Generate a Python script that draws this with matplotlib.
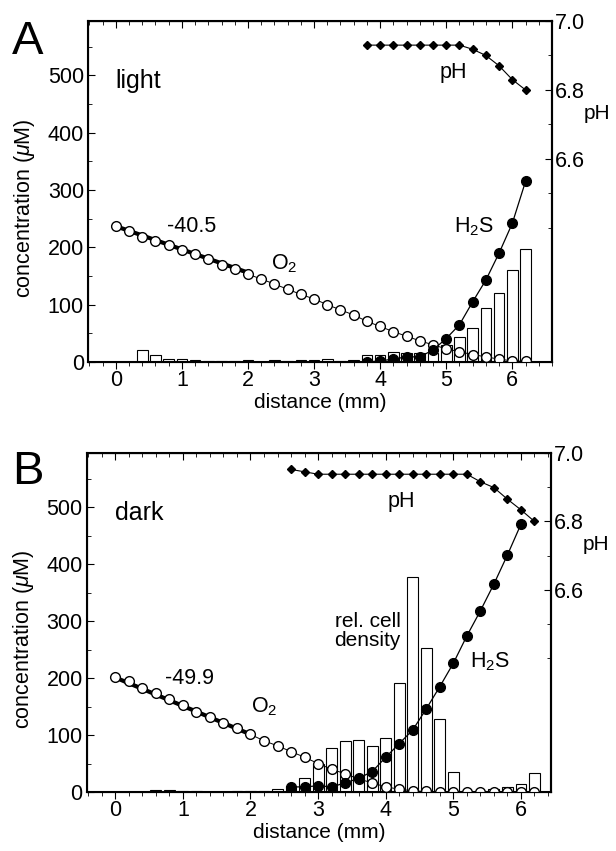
import numpy as np
import matplotlib.pyplot as plt
from matplotlib.ticker import MultipleLocator, FixedLocator

plt.rcParams['font.family'] = ['Liberation Sans', 'DejaVu Sans']
plt.rcParams['mathtext.fontset'] = 'custom'
plt.rcParams['mathtext.rm'] = 'Liberation Sans'
plt.rcParams['mathtext.it'] = 'Liberation Sans:italic'

# depth grid (mm)
dist = np.round(np.arange(0, 6.21, 0.2), 1)

# panel A (light)
o2_light = [237, 229, 219, 211, 204, 196, 188, 179, 170, 162, 153, 145, 136, 127, 118, 110,
            100, 91, 82, 71, 62, 53, 45, 37, 30, 23, 18, 13, 9, 5, 2, 1]
h2s_light_x = np.round(np.arange(3.8, 6.21, 0.2), 1)
h2s_light = [0, 2, 5, 9, 9, 21, 41, 65, 105, 143, 190, 242, 315]
ph_light_x = np.round(np.arange(3.8, 6.21, 0.2), 1)
ph_light = [6.93, 6.93, 6.93, 6.93, 6.93, 6.93, 6.93, 6.93, 6.918, 6.90, 6.87, 6.83, 6.80]
cells_light = [0, 0, 21, 12, 5, 5, 3.5, 1, 2, 2.5, 3, 0.5, 3.5, 1, 3, 3,
               5, 1, 3, 12, 13, 18, 16, 16, 15, 30, 44, 60, 94, 121, 161, 197]
slope_light = -40.5

# panel B (dark)
o2_dark = [201, 194, 183, 173, 163, 153, 141, 131, 122, 112, 101, 90, 81, 71, 61, 50,
           40, 32, 23, 16, 9, 5, 2, 1, 0.5, 0.5, 0.5, 0.5, 0.5, 0.5, 0.5, 0.5]
h2s_dark_x = np.round(np.arange(2.6, 6.01, 0.2), 1)
h2s_dark = [9, 9, 11, 9, 16, 24, 36, 61, 85, 109, 146, 185, 226, 274, 318, 365, 416, 470]
ph_dark_x = np.round(np.arange(2.6, 6.21, 0.2), 1)
ph_dark = [6.952, 6.945] + [6.938] * 12 + [6.916, 6.899, 6.865, 6.834, 6.80]
cells_dark = [0, 0, 0, 3, 4, 2, 1, 0, 0, 1, 2, 1, 5, 10, 25, 50,
              78, 90, 92, 80, 95, 192, 378, 253, 129, 36, 2, 1, 5, 9, 14, 33]
slope_dark = -49.9

fig = plt.figure(figsize=(6.16, 8.51), dpi=100)
ax_a = fig.add_axes([0.143, 0.5746, 0.753, 0.4007])
ax_b = fig.add_axes([0.141, 0.0693, 0.753, 0.3984])


def panel(ax, o2, h2s_x, h2s, ph_x, ph, cells, slope, xmax):
    ax.bar(dist, cells, width=0.16, facecolor='white', edgecolor='black',
           linewidth=0.8, zorder=1)
    # regression line over the upper O2 profile
    fit_x = np.array([0, 2.0])
    ax.plot(fit_x, o2[0] + slope * fit_x, color='black', lw=3, zorder=2)
    ax.plot(dist, o2, '-', color='black', lw=0.7, marker='o', ms=7,
            mfc='white', mec='black', mew=1.0, zorder=3)
    ax.plot(h2s_x, h2s, '-', color='black', lw=0.9, marker='o', ms=7,
            mfc='black', mec='black', zorder=4)
    ax.set_xlim(-0.42, xmax)
    ax.set_ylim(0, 595)
    ax.xaxis.set_major_locator(MultipleLocator(1))
    ax.xaxis.set_minor_locator(MultipleLocator(0.2))
    ax.yaxis.set_major_locator(MultipleLocator(100))
    ax.yaxis.set_minor_locator(MultipleLocator(50))
    ax.tick_params(axis='y', which='both', direction='in', labelsize=15.5, pad=3)
    ax.tick_params(axis='y', which='major', length=5)
    ax.tick_params(axis='y', which='minor', length=3)
    ax.tick_params(axis='x', which='both', direction='out', labelsize=15.5, pad=1)
    ax.tick_params(axis='x', which='major', length=5)
    ax.tick_params(axis='x', which='minor', length=3)
    top = ax.secondary_xaxis('top')
    top.xaxis.set_major_locator(MultipleLocator(1))
    top.xaxis.set_minor_locator(MultipleLocator(0.2))
    top.tick_params(which='both', direction='in', labeltop=False)
    top.tick_params(which='major', length=5)
    top.tick_params(which='minor', length=3)
    ax.set_xlabel('distance (mm)', fontsize=15, labelpad=1)
    ax.set_ylabel(r'concentration ($\mu$M)', fontsize=15.5)
    ax.yaxis.set_label_coords(-0.11, 0.45)
    for s in ax.spines.values():
        s.set_linewidth(1.5)

    ax2 = ax.twinx()
    ax2.plot(ph_x, ph, '-', color='black', lw=0.8, marker='D', ms=4,
             mfc='black', mec='black')
    ax2.set_ylim(6.01, 7.0)
    ax2.yaxis.set_major_locator(FixedLocator([6.6, 6.8, 7.0]))
    ax2.yaxis.set_minor_locator(FixedLocator([6.4, 6.5, 6.7, 6.9]))
    ax2.yaxis.set_major_formatter(plt.FuncFormatter(lambda v, p: f'{v:.1f}'))
    ax2.tick_params(axis='y', which='both', direction='in', labelsize=15.5, pad=2)
    ax2.tick_params(axis='y', which='major', length=5)
    ax2.tick_params(axis='y', which='minor', length=3)
    ax2.spines['right'].set_linewidth(1.5)
    ax2.text(1.097, 0.73, 'pH', transform=ax2.transAxes, fontsize=15,
             ha='center', va='center')
    return ax2


panel(ax_a, o2_light, h2s_light_x, h2s_light, ph_light_x, ph_light,
      cells_light, slope_light, 6.6)
panel(ax_b, o2_dark, h2s_dark_x, h2s_dark, ph_dark_x, ph_dark,
      cells_dark, slope_dark, 6.44)

# labels in panel A
ax_a.text(0.0, 490, 'light', fontsize=18, ha='left', va='center')
ax_a.text(1.15, 237, '-40.5', fontsize=15.5, ha='center', va='center')
ax_a.text(2.55, 172, r'O$_2$', fontsize=15.5, ha='center', va='center')
ax_a.text(5.42, 236, r'H$_2$S', fontsize=15.5, ha='center', va='center')
ax_a.text(5.1, 506, 'pH', fontsize=15.5, ha='center', va='center')

# labels in panel B
ax_b.text(0.0, 490, 'dark', fontsize=18, ha='left', va='center')
ax_b.text(1.1, 199, '-49.9', fontsize=15.5, ha='center', va='center')
ax_b.text(2.2, 150, r'O$_2$', fontsize=15.5, ha='center', va='center')
ax_b.text(3.73, 282, 'rel. cell\ndensity', fontsize=15, ha='center',
          va='center', linespacing=1.0)
ax_b.text(5.55, 228, r'H$_2$S', fontsize=15.5, ha='center', va='center')
ax_b.text(4.23, 510, 'pH', fontsize=15.5, ha='center', va='center')

fig.text(0.02, 0.977, 'A', fontsize=34, ha='left', va='top')
fig.text(0.02, 0.471, 'B', fontsize=34, ha='left', va='top')

fig.savefig('out.png', dpi=100)
